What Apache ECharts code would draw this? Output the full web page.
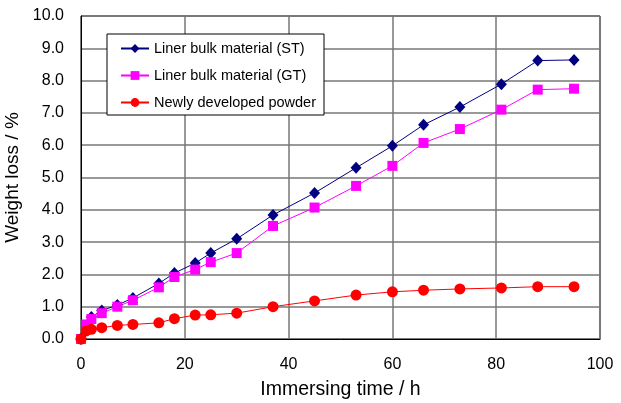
<!DOCTYPE html>
<html>
<head>
<meta charset="utf-8">
<script src="https://cdn.jsdelivr.net/npm/echarts@6/dist/echarts.min.js"></script>
<style>
  html, body { margin: 0; padding: 0; background: #fff; }
  #main { width: 621px; height: 403px; }
</style>
</head>
<body>
<div id="main"></div>
<script>
// immersing time (h)
const hours = [0, 1, 2, 4, 7, 10, 15, 18, 22, 25, 30, 37, 45, 53, 60, 66, 73, 81, 88, 95];
// weight loss (%)
const linerST = [0, 0.4, 0.68, 0.88, 1.05, 1.27, 1.72, 2.04, 2.35, 2.66, 3.1, 3.84, 4.52, 5.3, 5.98, 6.63, 7.18, 7.89, 8.62, 8.64];
const linerGT = [0, 0.45, 0.62, 0.8, 1.0, 1.2, 1.6, 1.92, 2.15, 2.38, 2.66, 3.5, 4.07, 4.74, 5.36, 6.07, 6.5, 7.1, 7.72, 7.75];
const newPowder = [0, 0.25, 0.3, 0.35, 0.42, 0.45, 0.5, 0.63, 0.74, 0.75, 0.8, 1.0, 1.18, 1.36, 1.46, 1.51, 1.55, 1.58, 1.62, 1.62];

const seriesNames = ['Liner bulk material (ST)', 'Liner bulk material (GT)', 'Newly developed powder'];

const pair = (ys) => hours.map((h, i) => [h, ys[i]]);

const chart = echarts.init(document.getElementById('main'));

const font = 'Arial, "Liberation Sans", sans-serif';

chart.setOption({
  animation: false,
  textStyle: { fontFamily: font },
  grid: {
    left: 81, right: 21, top: 16, bottom: 64,
    outerBoundsMode: 'none',
    containLabel: false,
    show: true, borderColor: '#000', borderWidth: 1
  },
  legend: {
    orient: 'vertical',
    left: 107, top: 34,
    backgroundColor: '#fff',
    borderColor: '#000',
    borderWidth: 1,
    padding: [7, 8, 5, 13],
    itemWidth: 28, itemHeight: 11,
    itemGap: 12,
    textStyle: { fontSize: 14.5, color: '#000', fontFamily: font },
    data: seriesNames
  },
  xAxis: {
    type: 'value',
    min: 0, max: 100, interval: 20,
    name: 'Immersing time / h',
    nameLocation: 'middle',
    nameGap: 41,
    nameTextStyle: { fontSize: 19.5, color: '#000' },
    axisLine: { lineStyle: { color: '#000' } },
    axisTick: { show: false },
    axisLabel: { fontSize: 16, color: '#000', margin: 18 },
    splitLine: { lineStyle: { color: '#777', width: 1.5 } }
  },
  yAxis: {
    type: 'value',
    min: 0, max: 10, interval: 1,
    name: 'Weight loss / %',
    nameLocation: 'middle',
    nameGap: 54,
    nameTextStyle: { fontSize: 19, color: '#000' },
    axisLine: { lineStyle: { color: '#000' } },
    axisTick: { show: false },
    axisLabel: { fontSize: 16, color: '#000', margin: 17, formatter: (v) => v.toFixed(1) },
    splitLine: { lineStyle: { color: '#777', width: 1.5 } }
  },
  series: [
    {
      name: seriesNames[0], type: 'line',
      data: pair(linerST),
      symbol: 'diamond', symbolSize: [11, 12],
      itemStyle: { color: '#000080' },
      lineStyle: { color: '#000080', width: 1 }
    },
    {
      name: seriesNames[1], type: 'line',
      data: pair(linerGT),
      symbol: 'rect', symbolSize: 10,
      itemStyle: { color: '#ff00ff' },
      lineStyle: { color: '#ff00ff', width: 1 }
    },
    {
      name: seriesNames[2], type: 'line',
      data: pair(newPowder),
      symbol: 'circle', symbolSize: 11,
      itemStyle: { color: '#ff0000' },
      lineStyle: { color: '#ff0000', width: 1 }
    }
  ]
});
</script>
</body>
</html>
